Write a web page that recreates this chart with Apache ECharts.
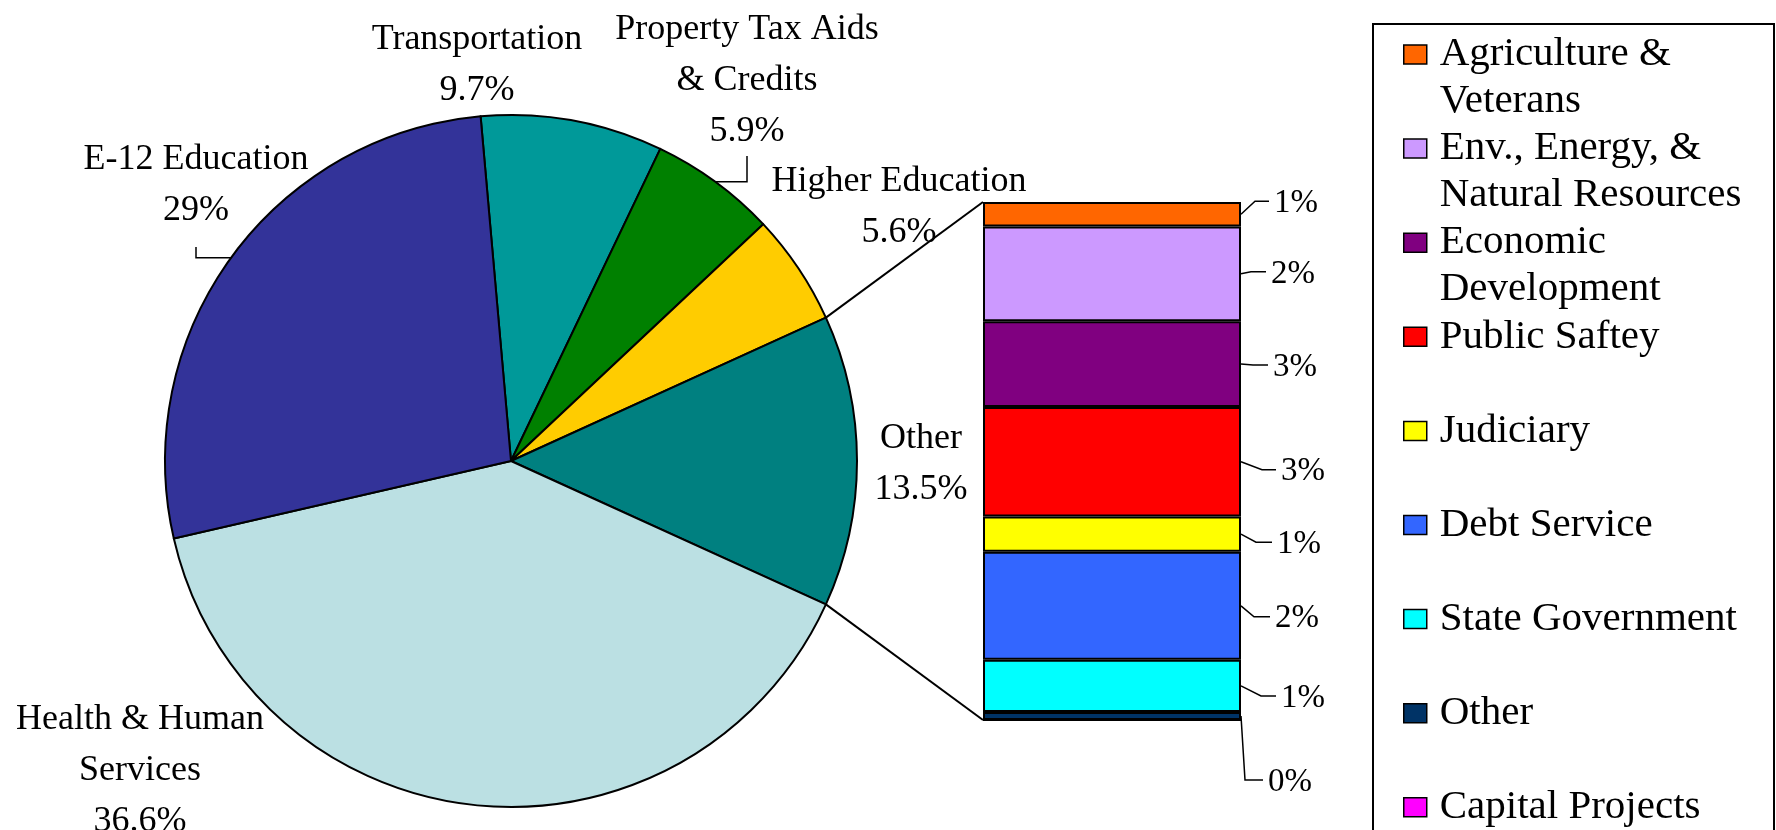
<!DOCTYPE html>
<html>
<head>
<meta charset="utf-8">
<title>General Fund Spending</title>
<script src="https://cdn.jsdelivr.net/npm/echarts@6/dist/echarts.min.js"></script>
<style>
  html, body { margin: 0; padding: 0; background: #fff; }
  #chart { width: 1776px; height: 830px; }
</style>
</head>
<body>
<div id="chart"></div>
<script>
// main pie, clockwise starting at Transportation (shares as drawn)
const pieNames = ['Transportation', 'Property Tax Aids\n& Credits', 'Higher Education', 'Other', 'Health & Human\nServices', 'E-12 Education'];
const pieShares = [8.5, 5.9, 5.2, 13.6, 39.6, 27.2];
const pieLabels = ['9.7%', '5.9%', '5.6%', '13.5%', '36.6%', '29%'];

// breakdown of "Other", top of the bar first
const otherNames = ['Agriculture & Veterans', 'Env., Energy, & Natural Resources', 'Economic Development', 'Public Saftey', 'Judiciary', 'Debt Service', 'State Government', 'Other', 'Capital Projects'];
const otherShares = [0.64, 2.47, 2.24, 2.86, 0.92, 2.82, 1.36, 0.21, 0];
const otherLabels = ['1%', '2%', '3%', '3%', '1%', '2%', '1%', '0%', ''];

// ---- styling / layout ----
const FONT = "'Liberation Serif', 'Times New Roman', serif";
const pieColors = ['#009999', '#008000', '#FFCC00', '#008080', '#BBE0E3', '#333399'];
const otherColors = ['#FF6600', '#CC99FF', '#800080', '#FF0000', '#FFFF00', '#3366FF', '#00FFFF', '#003366', '#FF00FF'];
const legendText = {
  'Agriculture & Veterans': 'Agriculture &\nVeterans',
  'Env., Energy, & Natural Resources': 'Env., Energy, &\nNatural Resources',
  'Economic Development': 'Economic\nDevelopment'
};
const PIE_C = [511, 461];
const PIE_R = 346;
const GRID = { left: 983, top: 202, width: 258, height: 518 };
// label anchor (center x, top y) for each pie label
const pieLabelPos = [[477, 14], [747, 4], [899, 156], [921, 413], [140, 694], [196, 134]];
// where the bent leader lines stop under their labels
const pieLeaderEnd = { 1: 156, 5: 247 };
// bar labels: [dx from bar edge, dy from segment middle, elbow length]
const barLabelShift = [[33, -11, 13], [30, 0, 14], [32, 3, 14], [40, 10, 13], [36, 10, 15], [34, 13, 15], [40, 12, 14], [27, 66, 17]];

const pieTotal = pieShares.reduce((a, b) => a + b, 0);
const otherIdx = pieNames.indexOf('Other');
const beforeOther = pieShares.slice(0, otherIdx).reduce((a, b) => a + b, 0);
// turn the pie so the "Other" slice faces the bar
const startAngle = (beforeOther + pieShares[otherIdx] / 2) / pieTotal * 360;
const barTotal = otherShares.reduce((a, b) => a + b, 0);

const pieData = pieNames.map((name, i) => ({
  name: name,
  value: pieShares[i],
  itemStyle: { color: pieColors[i] },
  labelLine: { show: pieLeaderEnd[i] != null }
}));

const barSeries = otherNames.map((name, i) => ({
  name: name,
  type: 'bar',
  stack: 'other',
  barWidth: '100%',
  data: [otherShares[i]],
  itemStyle: { color: otherColors[i], borderColor: '#000', borderWidth: 2 }
})).reverse();

// segment ranges for the bar labels: [from, to, index]
const segData = [];
otherShares.forEach((v, i) => {
  if (!otherLabels[i]) return;
  const below = otherShares.slice(i + 1).reduce((a, b) => a + b, 0);
  segData.push([below, below + v, i]);
});

function renderBarLabel(params, api) {
  const i = api.value(2);
  const top = api.coord([0, api.value(1)]);
  const bot = api.coord([0, api.value(0)]);
  const xr = top[0] + api.size([1, 0])[0] / 2;
  const ym = (top[1] + bot[1]) / 2;
  const s = barLabelShift[i];
  const tx = xr + s[0];
  const ty = ym + s[1];
  return {
    type: 'group',
    children: [
      {
        type: 'polyline',
        shape: { points: [[xr, ym], [tx - 6 - s[2], ty - 2], [tx - 5, ty - 2]] },
        style: { stroke: '#000', lineWidth: 1.5, fill: null }
      },
      {
        type: 'text',
        x: tx,
        y: ty,
        style: {
          text: otherLabels[i],
          fontFamily: FONT,
          fontSize: 33,
          fill: '#000',
          align: 'left',
          verticalAlign: 'middle'
        }
      }
    ]
  };
}

function onRim(deg) {
  const r = deg * Math.PI / 180;
  return [PIE_C[0] + PIE_R * Math.cos(r), PIE_C[1] - PIE_R * Math.sin(r)];
}
const otherFrom = startAngle - beforeOther / pieTotal * 360;
const otherTo = otherFrom - pieShares[otherIdx] / pieTotal * 360;

const chart = echarts.init(document.getElementById('chart'));
const option = {
  animation: false,
  backgroundColor: '#fff',
  grid: { left: GRID.left, top: GRID.top, width: GRID.width, height: GRID.height },
  xAxis: { type: 'category', data: ['Other'], show: false },
  yAxis: { type: 'value', min: 0, max: barTotal, show: false },
  legend: {
    data: otherNames.map(n => ({ name: n, icon: 'rect' })),
    orient: 'vertical',
    left: 1403,
    top: -16,
    height: 2000,
    padding: 0,
    itemWidth: 23,
    itemHeight: 19,
    itemGap: -46.9,
    selectedMode: false,
    itemStyle: { borderColor: '#000', borderWidth: 1.5 },
    // blank lines keep the icon level with the first text line
    formatter: function (name) {
      const t = legendText[name];
      return t ? '\n' + t : '\n' + name + '\n';
    },
    textStyle: { fontFamily: FONT, fontSize: 41, lineHeight: 47, color: '#000', padding: [0, 0, 0, 8] }
  },
  series: [
    {
      type: 'pie',
      center: PIE_C,
      radius: PIE_R,
      startAngle: startAngle,
      clockwise: true,
      avoidLabelOverlap: false,
      emphasis: { scale: false },
      itemStyle: { borderColor: '#000', borderWidth: 2 },
      label: {
        position: 'outside',
        width: 320,
        fontFamily: FONT,
        fontSize: 36,
        lineHeight: 51,
        color: '#000',
        formatter: p => p.name + '\n' + pieLabels[p.dataIndex]
      },
      labelLine: { lineStyle: { color: '#000', width: 1.5 } },
      labelLayout: function (p) {
        const pos = pieLabelPos[p.dataIndex];
        const out = { x: pos[0], y: pos[1], align: 'center', verticalAlign: 'top' };
        if (p.labelLinePoints) {
          const a = p.labelLinePoints[0];
          out.labelLinePoints = [[a[0], a[1]], [pos[0], a[1]], [pos[0], pieLeaderEnd[p.dataIndex]]];
        }
        return out;
      },
      data: pieData
    }
  ].concat(barSeries, [
    {
      type: 'custom',
      renderItem: renderBarLabel,
      silent: true,
      z: 5,
      data: segData
    }
  ]),
  graphic: [
    {
      type: 'polyline',
      shape: { points: [onRim(otherFrom), [GRID.left, GRID.top]] },
      style: { stroke: '#000', lineWidth: 2, fill: null },
      z: 10
    },
    {
      type: 'polyline',
      shape: { points: [onRim(otherTo), [GRID.left, GRID.top + GRID.height]] },
      style: { stroke: '#000', lineWidth: 2, fill: null },
      z: 10
    },
    {
      type: 'rect',
      shape: { x: 1373, y: 24, width: 401, height: 900 },
      style: { fill: 'none', stroke: '#000', lineWidth: 2 }
    }
  ]
};
chart.setOption(option);
</script>
</body>
</html>
